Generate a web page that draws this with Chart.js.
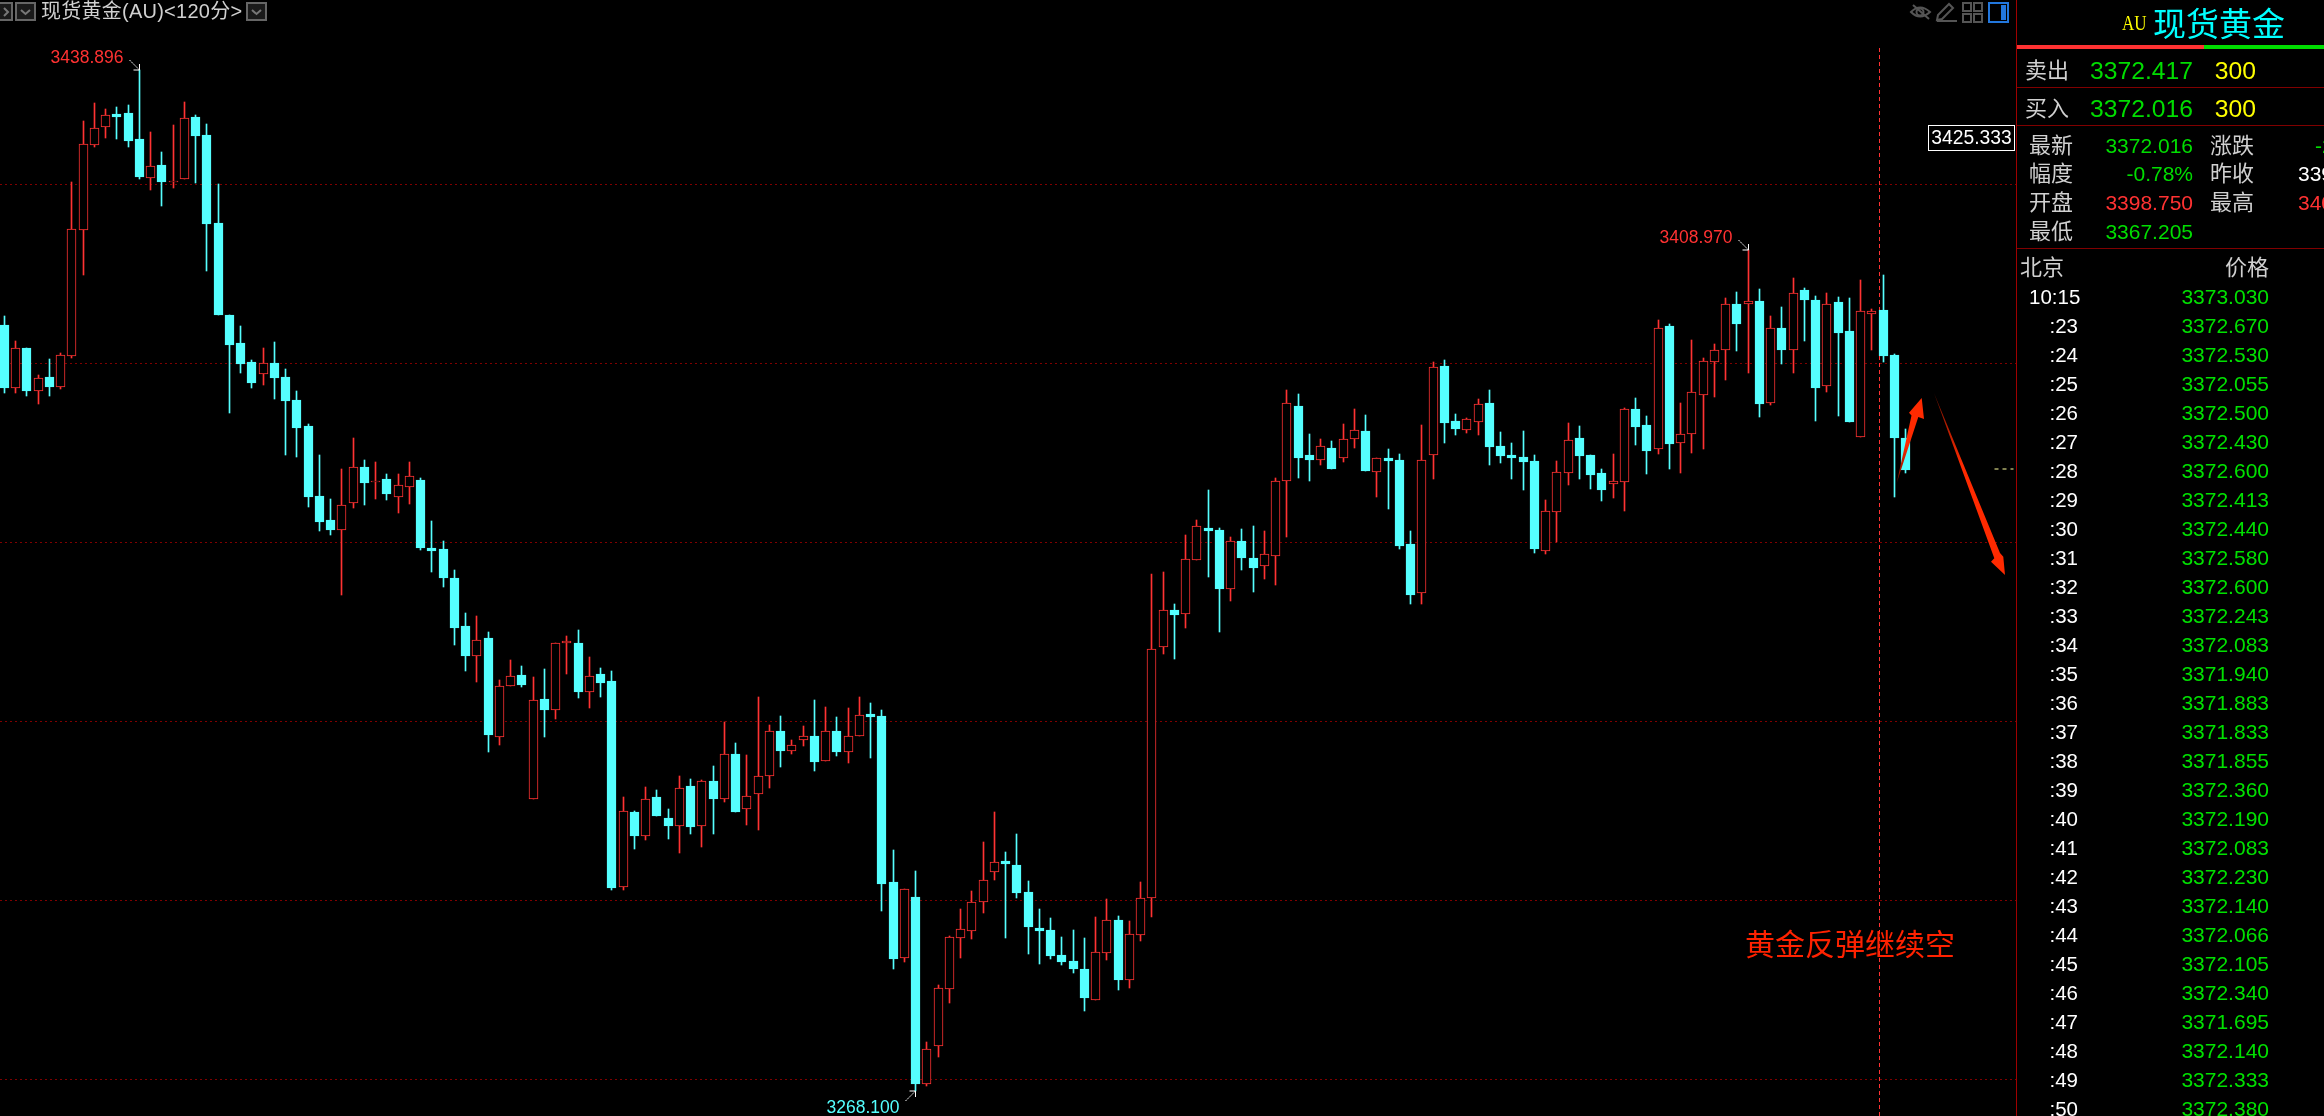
<!DOCTYPE html>
<html>
<head>
<meta charset="utf-8">
<title>现货黄金(AU)</title>
<script src="https://cdn.jsdelivr.net/npm/chart.js@4"></script>
<style>
html, body { margin: 0; padding: 0; background: #000; }
body { position: relative; width: 2324px; height: 1116px; overflow: hidden; font-family: "Liberation Sans", "Noto Sans CJK SC", sans-serif; }
#chartBox { position: absolute; left: 0; top: 0; width: 2016px; height: 1116px; }
#overlay { position: absolute; left: 0; top: 0; }
.t { position: absolute; white-space: nowrap; }
.line { position: absolute; left: 2017px; width: 307px; height: 1px; background: #800000; }
</style>
</head>
<body>
<div id="chartBox"><canvas id="kline" width="2016" height="1116"></canvas></div>

<svg id="overlay" width="2324" height="1116">
  <defs>
    <linearGradient id="upFade" x1="0" y1="1" x2="0" y2="0"><stop offset="0" stop-color="#701000"/><stop offset="0.45" stop-color="#ff2a00"/></linearGradient>
    <linearGradient id="downFade" x1="0" y1="0" x2="0" y2="1"><stop offset="0" stop-color="#701000"/><stop offset="0.4" stop-color="#ff2a00"/></linearGradient>
  </defs>
  <!-- hand drawn arrows -->
  <polygon fill="url(#upFade)" points="1896.7,483 1911.5,415.5 1909,412.7 1921.7,398 1924,419 1918.3,417"/>
  <polygon fill="url(#downFade)" points="1934,393 2000,553 2003.3,556.7 2005,575 1991,561.7 1994.3,558.3"/>
  <!-- title bar buttons -->
  <g fill="#1a1a1a" stroke="#666" stroke-width="2">
    <rect x="-4" y="3" width="16" height="17"/>
    <rect x="16" y="3" width="19" height="17"/>
    <rect x="247" y="3" width="19" height="17"/>
  </g>
  <g fill="none" stroke="#777" stroke-width="2">
    <path d="M4 8 L8 12 L4 16"/>
    <path d="M21 10 L25.5 14 L30 10"/>
    <path d="M252 10 L256.5 14 L261 10"/>
  </g>
  <!-- toolbar icons -->
  <g fill="none" stroke="#555" stroke-width="2">
    <path d="M1911 12 Q1920 3 1930 12 Q1920 21 1911 12 Z"/>
    <circle cx="1920" cy="12" r="3.5"/>
    <path d="M1913 5 L1929 19"/>
    <path d="M1937 20 L1938 15 L1949 4 L1953 8 L1942 19 Z M1937 21 L1957 21"/>
    <rect x="1963" y="3" width="8" height="8"/><rect x="1974" y="3" width="8" height="8"/>
    <rect x="1963" y="14" width="8" height="8"/><rect x="1974" y="14" width="8" height="8"/>
  </g>
  <rect x="1989" y="3" width="19" height="19" fill="none" stroke="#2277dd" stroke-width="2"/>
  <rect x="2001" y="5" width="5" height="15" fill="#2277dd"/>
  <!-- panel frame -->
  <rect x="2016" y="0" width="1" height="1116" fill="#a00000"/>
  <rect x="2017" y="45" width="187" height="4" fill="#ff3232"/>
  <rect x="2204" y="45" width="120" height="4" fill="#00dd00"/>
</svg>

<script>
// candles (left to right)
var opens = [
  3396.2,3385.8,3392.4,3385.3,3387.5,3385.9,3391.1,3412.0,3426.3,3429.2,
  3431.4,3431.6,3427.2,3420.8,3422.9,3420.0,3420.5,3430.9,3427.9,3413.3,
  3397.9,3393.3,3390.0,3388.1,3389.9,3387.6,3383.7,3379.4,3367.7,3363.7,
  3362.1,3366.5,3372.6,3370.0,3370.6,3367.6,3369.3,3370.4,3359.1,3358.9,
  3354.1,3346.1,3341.0,3344.1,3327.6,3336.1,3337.9,3317.3,3333.9,3332.1,
  3343.2,3343.2,3335.1,3338.1,3336.9,3302.5,3315.1,3311.0,3317.6,3314.1,
  3312.8,3319.4,3312.8,3320.2,3317.3,3324.7,3315.5,3318.0,3321.0,3328.6,
  3325.3,3327.1,3327.7,3323.5,3328.6,3325.1,3327.8,3331.4,3331.1,3303.4,
  3290.8,3300.9,3269.8,3276.1,3285.6,3294.1,3295.3,3300.0,3305.0,3306.9,
  3306.2,3301.7,3295.7,3295.4,3291.2,3290.2,3288.9,3283.8,3291.6,3297.1,
  3287.0,3294.6,3300.7,3342.5,3348.7,3348.1,3357.0,3362.4,3362.1,3352.3,
  3360.2,3357.4,3356.0,3357.8,3370.3,3382.7,3374.6,3373.8,3375.7,3374.1,
  3377.3,3378.6,3371.8,3374.1,3373.7,3359.7,3351.5,3374.5,3389.4,3380.2,
  3378.8,3380.1,3383.2,3376.1,3374.6,3374.2,3373.6,3358.6,3365.1,3371.6,
  3377.4,3374.6,3371.6,3369.8,3370.1,3382.2,3379.6,3375.5,3396.1,3376.6,
  3378.1,3384.6,3390.0,3392.1,3399.7,3399.8,3400.2,3383.3,3395.7,3392.1,
  3402.1,3400.4,3386.0,3400.1,3395.2,3377.6,3398.0,3398.7,3391.2,3377.4
];
var highs = [
  3397.7,3393.6,3392.4,3387.9,3390.6,3391.6,3420.0,3430.2,3433.3,3432.2,
  3432.5,3432.9,3438.8,3428.4,3425.0,3429.6,3433.4,3431.2,3429.7,3419.7,
  3397.9,3396.1,3390.4,3392.4,3393.4,3388.9,3385.2,3379.7,3374.6,3367.2,
  3372.2,3377.4,3373.7,3373.4,3371.4,3371.4,3373.4,3370.7,3363.6,3360.2,
  3355.4,3348.2,3347.7,3345.1,3337.1,3340.4,3339.4,3337.6,3338.9,3343.3,
  3344.4,3345.4,3340.9,3339.1,3338.6,3317.6,3315.2,3319.2,3318.7,3315.6,
  3321.1,3320.6,3320.4,3322.7,3330.1,3326.6,3324.6,3334.2,3329.6,3331.1,
  3327.1,3329.4,3333.7,3332.6,3330.9,3332.4,3334.2,3333.2,3332.1,3308.7,
  3302.3,3305.2,3276.7,3286.2,3294.4,3298.9,3301.9,3310.1,3315.1,3308.4,
  3311.4,3303.6,3298.9,3297.4,3294.2,3295.4,3294.1,3297.6,3300.6,3297.7,
  3296.9,3303.4,3354.7,3355.1,3349.7,3361.2,3363.7,3368.7,3362.4,3360.9,
  3362.2,3362.7,3361.9,3370.7,3385.4,3384.7,3378.1,3377.2,3376.9,3379.7,
  3382.2,3381.2,3374.0,3375.6,3374.7,3361.9,3379.6,3390.1,3390.4,3381.4,
  3380.7,3383.9,3385.4,3378.4,3376.6,3378.6,3374.6,3367.1,3373.6,3379.9,
  3379.4,3374.6,3372.2,3374.7,3382.4,3384.1,3381.1,3397.1,3396.4,3383.2,
  3393.7,3390.7,3393.1,3400.7,3401.7,3408.8,3402.2,3397.7,3399.2,3404.1,
  3402.4,3401.1,3401.6,3400.9,3400.7,3403.7,3398.9,3404.6,3391.4,3378.9
];
var lows = [
  3384.9,3384.9,3384.4,3383.1,3384.4,3385.6,3390.8,3404.6,3425.9,3427.4,
  3427.2,3425.9,3420.6,3418.7,3416.1,3419.1,3420.5,3419.9,3405.2,3397.9,
  3381.5,3388.3,3385.8,3386.2,3383.9,3374.6,3374.2,3365.9,3361.9,3361.2,
  3351.2,3365.7,3366.2,3367.2,3367.1,3364.9,3366.4,3358.7,3355.1,3352.6,
  3342.9,3338.6,3336.7,3325.1,3326.2,3336.1,3335.9,3317.3,3327.6,3330.6,
  3338.1,3334.1,3332.4,3334.2,3302.1,3302.1,3308.9,3310.4,3314.4,3310.6,
  3308.2,3311.4,3309.2,3311.4,3316.7,3315.1,3312.9,3312.1,3319.1,3322.6,
  3324.7,3326.1,3321.9,3323.5,3324.4,3323.2,3327.8,3324.1,3298.6,3288.9,
  3290.1,3268.6,3269.4,3274.2,3283.2,3290.7,3293.9,3298.2,3303.7,3294.1,
  3300.7,3291.4,3289.7,3290.6,3289.6,3288.2,3281.9,3283.8,3290.4,3285.4,
  3285.7,3293.6,3297.6,3341.4,3340.6,3345.7,3357.0,3354.2,3345.1,3350.2,
  3355.4,3351.7,3353.9,3352.9,3360.9,3370.7,3370.2,3372.9,3372.2,3373.4,
  3375.7,3371.9,3367.6,3365.6,3358.9,3349.7,3349.7,3370.6,3376.6,3377.9,
  3378.2,3377.9,3372.9,3373.2,3370.6,3368.7,3358.2,3358.1,3360.1,3369.6,
  3370.6,3368.9,3366.9,3367.4,3365.2,3376.2,3371.4,3374.7,3372.2,3371.6,
  3374.9,3375.6,3384.2,3387.1,3391.9,3388.2,3380.9,3382.9,3389.7,3388.2,
  3393.6,3380.2,3385.1,3381.1,3380.1,3377.6,3392.1,3390.1,3367.6,3371.6
];
var closes = [
  3385.8,3392.4,3385.2,3387.4,3385.9,3391.2,3412.2,3426.4,3429.0,3431.2,
  3430.9,3426.9,3420.9,3422.8,3420.0,3420.3,3430.7,3427.7,3413.1,3397.9,
  3392.9,3389.8,3386.6,3389.9,3387.4,3383.6,3379.1,3367.6,3363.4,3362.1,
  3366.3,3372.5,3369.9,3370.3,3368.1,3369.5,3371.0,3359.1,3358.6,3354.1,
  3345.7,3341.1,3343.8,3327.9,3336.0,3337.7,3336.2,3333.8,3332.1,3343.3,
  3343.5,3335.1,3337.8,3336.6,3302.4,3315.2,3311.1,3317.3,3314.4,3312.7,
  3319.0,3312.6,3320.2,3317.2,3324.7,3315.1,3317.7,3321.0,3328.5,3325.2,
  3326.3,3327.7,3323.4,3328.5,3325.1,3327.8,3331.3,3330.9,3303.1,3290.6,
  3302.3,3269.7,3275.5,3285.7,3294.2,3295.5,3300.0,3303.7,3306.8,3306.4,
  3301.6,3295.9,3295.2,3291.1,3290.1,3288.9,3284.1,3291.8,3297.0,3287.1,
  3294.8,3300.7,3342.3,3348.7,3347.9,3357.2,3362.7,3361.9,3352.2,3360.3,
  3357.4,3355.7,3358.0,3370.3,3383.3,3374.1,3373.7,3376.0,3372.2,3377.3,
  3378.8,3371.9,3374.0,3373.6,3359.4,3351.2,3373.7,3389.3,3379.9,3378.9,
  3380.5,3383.0,3375.9,3374.4,3374.1,3373.4,3358.9,3365.2,3371.7,3377.0,
  3374.4,3371.2,3368.7,3370.2,3382.2,3379.2,3375.2,3395.8,3376.4,3378.0,
  3385.0,3390.2,3392.0,3399.7,3396.4,3400.3,3383.1,3395.7,3392.1,3401.5,
  3400.4,3385.7,3399.7,3394.9,3380.1,3398.5,3398.5,3391.1,3377.4,3372.0
];

// dotted grid lines, where they sit in the picture
var gridValues = [3419.8, 3389.9, 3360.0, 3330.2, 3300.4, 3270.5];

// marked extremes
var markIndex = [12, 155, 81];
var markLabels = ['3438.896', '3408.970', '3268.100'];

// side panel
var tapeTimes = ['10:15',':23',':24',':25',':26',':27',':28',':29',':30',':31',':32',':33',':34',':35',':36',':37',':38',':39',':40',':41',':42',':43',':44',':45',':46',':47',':48',':49',':50'];
var tapePrices = ['3373.030','3372.670','3372.530','3372.055','3372.500','3372.430','3372.600','3372.413','3372.440','3372.580','3372.600','3372.243','3372.083','3371.940','3371.883','3371.833','3371.855','3372.360','3372.190','3372.083','3372.230','3372.140','3372.066','3372.105','3372.340','3371.695','3372.140','3372.333','3372.380'];

var CYAN = '#55ffff', RED = '#ff3232', GREEN = '#00dd00', GREY = '#d0d0d0';

function isUp(i) { return closes[i] >= opens[i]; }
function candleColor(ctx) { return isUp(ctx.dataIndex) ? RED : CYAN; }

// snap scale pixels so the candles stay crisp like the terminal draws them
var snapPixels = {
    id: 'snapPixels',
    afterLayout: function(chart) {
        var xs = chart.scales.x, ys = chart.scales.y;
        var xPixel = xs.getPixelForValue.bind(xs), yPixel = ys.getPixelForValue.bind(ys);
        xs.getPixelForValue = function(v) { return Math.floor(xPixel(v)) + 0.5; };
        ys.getPixelForValue = function(v) { return Math.round(yPixel(v)); };
    }
};

// price labels with the small white arrows at the extremes
var extremeMarks = {
    id: 'extremeMarks',
    afterDatasetsDraw: function(chart) {
        var c = chart.ctx, xs = chart.scales.x, ys = chart.scales.y;
        markIndex.forEach(function(idx, n) {
            var isLow = lows[idx] < 3270;
            var x = xs.getPixelForValue(idx);
            var y = ys.getPixelForValue(isLow ? lows[idx] : highs[idx]);
            var dir = isLow ? 1 : -1;
            var sx = x - 10, sy = y + dir * 10;
            c.save();
            c.font = '17.5px "Liberation Sans"';
            c.textAlign = 'right';
            c.textBaseline = 'middle';
            c.fillStyle = isLow ? CYAN : RED;
            c.fillText(markLabels[n], x - 16, y + dir * 12 + (isLow ? 5 : 0));
            c.strokeStyle = '#fff';
            c.lineWidth = 1;
            c.setLineDash([2, 1]);
            c.beginPath(); c.moveTo(sx, sy); c.lineTo(x, y); c.stroke();
            c.setLineDash([]);
            c.beginPath(); c.moveTo(x - 6, y); c.lineTo(x, y); c.lineTo(x, y + dir * 6); c.stroke();
            c.restore();
        });
    }
};

new Chart(document.getElementById('kline'), {
    type: 'bar',
    data: {
        datasets: [
            {
                label: 'body',
                data: opens.map(function(o, i) { return { x: i, y: [o, closes[i]] }; }),
                grouped: false,
                order: 1,
                barThickness: 9,
                borderWidth: 1,
                borderSkipped: false,
                borderColor: candleColor,
                backgroundColor: function(ctx) { return isUp(ctx.dataIndex) ? '#000' : CYAN; }
            },
            {
                label: 'wick',
                data: lows.map(function(l, i) { return { x: i, y: [l, highs[i]] }; }),
                grouped: false,
                order: 2,
                barThickness: 1,
                borderWidth: 0,
                backgroundColor: candleColor
            },
            {
                type: 'line',
                label: 'cursor',
                data: [{ x: 166.68, y: 3442.4 }, { x: 166.68, y: 3264.4 }],
                order: 3,
                borderColor: '#ff3232',
                borderWidth: 1,
                borderDash: [4, 3],
                pointRadius: 0
            },
            {
                type: 'line',
                label: 'last',
                data: [{ x: 176.9, y: 3372.3 }, { x: 178.6, y: 3372.3 }],
                order: 3,
                borderColor: '#ffffa0',
                borderWidth: 1,
                borderDash: [4, 4],
                pointRadius: 0
            }
        ]
    },
    options: {
        responsive: false,
        animation: false,
        layout: { padding: 0 },
        plugins: { legend: { display: false }, tooltip: { enabled: false } },
        scales: {
            x: { type: 'linear', display: false, offset: false, min: -0.382, max: 178.82 },
            y: {
                min: 3264.4,
                max: 3450.4,
                afterBuildTicks: function(axis) { axis.ticks = gridValues.map(function(v) { return { value: v }; }); },
                ticks: { display: false },
                border: { display: false, dash: [2, 3] },
                grid: { color: '#800000', lineWidth: 1, drawTicks: false }
            }
        }
    },
    plugins: [snapPixels, extremeMarks]
});

// ---- text around the chart ----
function put(text, x, yc, size, color, right, font) {
    var el = document.createElement('div');
    el.className = 't';
    el.textContent = text;
    el.style.fontSize = size + 'px';
    el.style.color = color;
    el.style.lineHeight = '40px';
    el.style.top = (yc - 20) + 'px';
    if (font) el.style.fontFamily = font;
    if (right) el.style.right = (2324 - x) + 'px';
    else el.style.left = x + 'px';
    document.body.appendChild(el);
    return el;
}
function rule(y) {
    var el = document.createElement('div');
    el.className = 'line';
    el.style.top = y + 'px';
    document.body.appendChild(el);
}

var title = put('现货黄金(AU)<120分>', 41, 11, 20, GREY);
title.style.letterSpacing = '0.25px';
put('黄金反弹继续空', 1745, 942, 30, '#ff2200', false, '"Noto Sans CJK SC"');

var box = put('3425.333', 1928, 137.5, 19.3, '#fff');
box.style.border = '1px solid #fff';
box.style.width = '85px';
box.style.textAlign = 'center';
box.style.lineHeight = '24px';
box.style.top = '125px';

var au = put('AU', 2122, 23, 20, '#ffff00', false, '"Liberation Serif"');
au.style.transform = 'scaleX(0.85)';
au.style.transformOrigin = '0 50%';
put('现货黄金', 2153, 22, 33, '#00ffff', false, '"Noto Sans CJK SC"');

put('卖出', 2025, 71, 22, GREY);
put('3372.417', 2193, 71, 24.7, GREEN, true);
put('300', 2256, 71, 24.7, '#ffff00', true);
rule(87);
put('买入', 2025, 109, 22, GREY);
put('3372.016', 2193, 109, 24.7, GREEN, true);
put('300', 2256, 109, 24.7, '#ffff00', true);
rule(125);

put('最新', 2029, 146, 22, GREY);
put('3372.016', 2193, 146, 21, GREEN, true);
put('涨跌', 2210, 146, 22, GREY);
put('-26.484', 2315, 146, 21, GREEN);
put('幅度', 2029, 174, 22, GREY);
put('-0.78%', 2193, 174, 21, GREEN, true);
put('昨收', 2210, 174, 22, GREY);
put('3398.500', 2298, 174, 21, '#fff');
put('开盘', 2029, 203, 22, GREY);
put('3398.750', 2193, 203, 21, RED, true);
put('最高', 2210, 203, 22, GREY);
put('3406.000', 2298, 203, 21, RED);
put('最低', 2029, 232, 22, GREY);
put('3367.205', 2193, 232, 21, GREEN, true);
rule(248);

put('北京', 2020, 268, 22, GREY);
put('价格', 2269, 268, 22, GREY, true);

tapeTimes.forEach(function(t, i) {
    var y = 297.3 + i * 29;
    if (i === 0) put(t, 2029, y, 20.5, '#fff');
    else put(t, 2078, y, 20.5, '#fff', true);
    put(tapePrices[i], 2269, y, 21, '#00e000', true);
});
</script>
</body>
</html>
